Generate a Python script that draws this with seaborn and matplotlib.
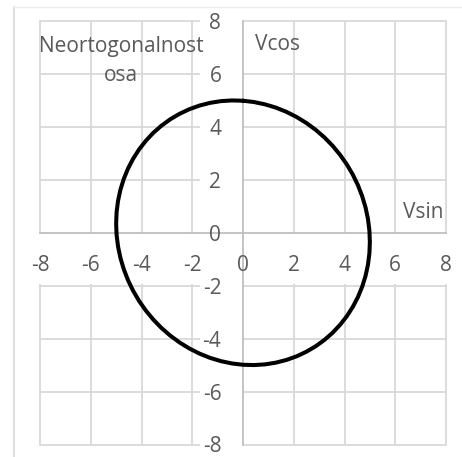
import pandas as pd
import seaborn as sns
import matplotlib.pyplot as plt
from matplotlib.patches import Rectangle
from matplotlib.lines import Line2D

# Sine and cosine channel readings around one full turn (every 5 degrees)
vsin = [0.000, 0.436, 0.868, 1.294, 1.710, 2.113, 2.500, 2.868, 3.214, 3.536,
        3.830, 4.096, 4.330, 4.532, 4.698, 4.830, 4.924, 4.981, 5.000,
        4.981, 4.924, 4.830, 4.698, 4.532, 4.330, 4.096, 3.830, 3.536,
        3.214, 2.868, 2.500, 2.113, 1.710, 1.294, 0.868, 0.436, 0.000,
        -0.436, -0.868, -1.294, -1.710, -2.113, -2.500, -2.868, -3.214, -3.536,
        -3.830, -4.096, -4.330, -4.532, -4.698, -4.830, -4.924, -4.981, -5.000,
        -4.981, -4.924, -4.830, -4.698, -4.532, -4.330, -4.096, -3.830, -3.536,
        -3.214, -2.868, -2.500, -2.113, -1.710, -1.294, -0.868, -0.436, 0.000]
vcos = [4.988, 4.938, 4.851, 4.728, 4.568, 4.373, 4.145, 3.886, 3.597, 3.280,
        2.939, 2.575, 2.192, 1.792, 1.378, 0.954, 0.523, 0.087, -0.349,
        -0.782, -1.210, -1.628, -2.034, -2.424, -2.796, -3.147, -3.473, -3.774,
        -4.045, -4.286, -4.494, -4.668, -4.806, -4.908, -4.973, -4.999, -4.988,
        -4.938, -4.851, -4.728, -4.568, -4.373, -4.145, -3.886, -3.597, -3.280,
        -2.939, -2.575, -2.192, -1.792, -1.378, -0.954, -0.523, -0.087, 0.349,
        0.782, 1.210, 1.628, 2.034, 2.424, 2.796, 3.147, 3.473, 3.774,
        4.045, 4.286, 4.494, 4.668, 4.806, 4.908, 4.973, 4.999, 4.988]
ticks = [-8, -6, -4, -2, 0, 2, 4, 6, 8]

title_lines = ["Neortogonalnost", "osa"]
x_title = "Vsin"
y_title = "Vcos"

sns.set_style("white")
plt.rcParams['font.family'] = ['Open Sans', 'DejaVu Sans']
plt.rcParams['axes.unicode_minus'] = False

TEXT = '#595959'
GRID = '#d9d9d9'
AXIS = '#bfbfbf'
FS = 15

W, H = 462, 457
fig = plt.figure(figsize=(W / 100, H / 100), dpi=100)
fig.patch.set_facecolor('white')
ax = fig.add_axes([40 / W, 12.5 / H, 406 / W, 423.5 / H])

df = pd.DataFrame({'Vsin': vsin, 'Vcos': vcos})
sns.lineplot(data=df, x='Vsin', y='Vcos', sort=False, estimator=None,
             color='black', lw=2.9, ax=ax, zorder=4,
             solid_joinstyle='round', solid_capstyle='round')

ax.set_xlim(-8, 8)
ax.set_ylim(-8, 8)
ax.set_xticks(ticks)
ax.set_yticks(ticks)
ax.set_xlabel('')
ax.set_ylabel('')
ax.grid(False)

# inner gridlines
for t in ticks[1:-1]:
    if t != 0:
        ax.axvline(t, color=GRID, lw=1.3, zorder=0.5)
        ax.axhline(t, color=GRID, lw=1.3, zorder=0.5)
# plot-area border
ax.add_patch(Rectangle((0, 0), 1, 1, transform=ax.transAxes, fill=False,
                       ec=GRID, lw=1.3, clip_on=False, zorder=0.6))
# filled axis label areas
ax.add_patch(Rectangle((-8.15, -1.95), 16.3, 1.95, fc='white', ec='none',
                       clip_on=False, zorder=1))
ax.add_patch(Rectangle((-1.68, -8.15), 1.68, 16.3, fc='white', ec='none',
                       clip_on=False, zorder=1))

for side in ('left', 'bottom'):
    ax.spines[side].set_position(('data', 0))
    ax.spines[side].set_color(AXIS)
    ax.spines[side].set_linewidth(1.3)
    ax.spines[side].set_zorder(2.5)
for side in ('top', 'right'):
    ax.spines[side].set_visible(False)

ax.xaxis.set_zorder(3)
ax.yaxis.set_zorder(3)
ax.tick_params(axis='both', length=0, labelcolor=TEXT, labelsize=FS)
ax.tick_params(axis='x', pad=16.3)
ax.tick_params(axis='y', pad=15.6)

# chart title and axis titles
ax.text(-4.81, 6.84, title_lines[0], ha='center', va='baseline', color=TEXT, fontsize=FS)
ax.text(-4.81, 5.73, title_lines[1], ha='center', va='baseline', color=TEXT, fontsize=FS)
ax.text(1.37, 6.90, y_title, ha='center', va='baseline', color=TEXT, fontsize=FS)
ax.text(7.11, 0.54, x_title, ha='center', va='baseline', color=TEXT, fontsize=FS)

# chart area frame
fig.add_artist(Line2D([13.5 / W, 13.5 / W], [0, 1 - 7 / H], transform=fig.transFigure,
                      color=GRID, lw=1.2))
fig.add_artist(Line2D([13.5 / W, 1], [1 - 7 / H, 1 - 7 / H], transform=fig.transFigure,
                      color='#eeeeee', lw=1.0))

fig.savefig('out.png', dpi=100, facecolor='white')
